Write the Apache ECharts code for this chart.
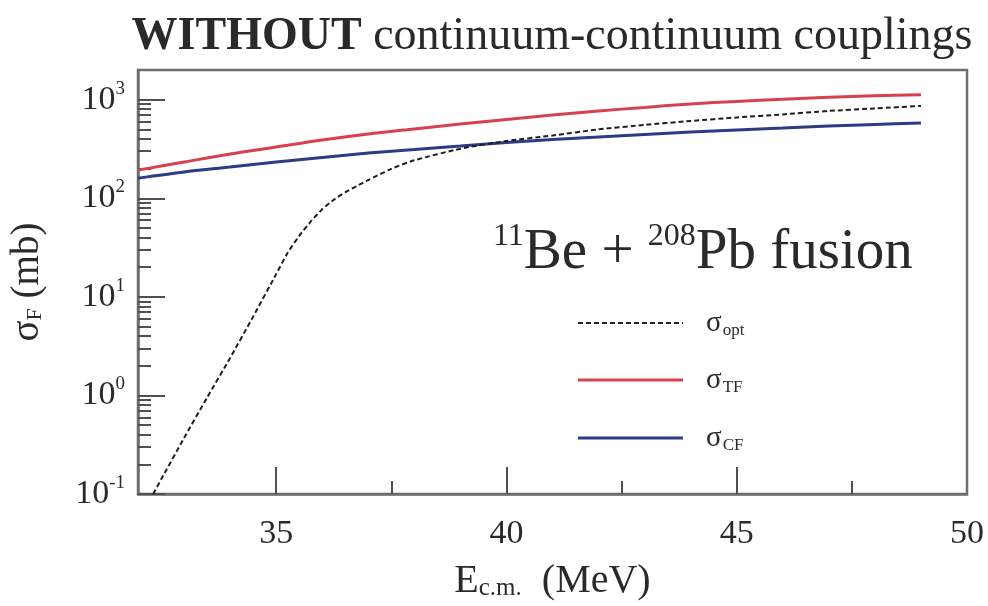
<!DOCTYPE html>
<html>
<head>
<meta charset="utf-8">
<script src="https://cdn.jsdelivr.net/npm/echarts@6/dist/echarts.min.js"></script>
<style>
  html, body { margin: 0; padding: 0; background: #fff; }
  #c { width: 988px; height: 606px; }
</style>
</head>
<body>
<div id="c"></div>
<script>
// Centre-of-mass energies (MeV) for the coupled-channel curves
const energies = [32, 33, 34, 35, 36, 37, 38, 39, 40, 41, 42, 43, 44, 45, 46, 47, 48, 49];
// Total fusion cross section sigma_TF (mb)
const sigmaTF = [193, 233, 281, 331, 390, 449, 505, 567, 631, 700, 769, 835, 906, 961, 1008, 1057, 1095, 1120];
// Complete fusion cross section sigma_CF (mb)
const sigmaCF = [160, 185, 207, 233, 259, 287, 312, 339, 368, 395, 419, 444, 470, 493, 516, 541, 561, 581];
// Optical-model fusion, sampled more finely around the barrier
const optEnergies = [32.33, 32.5, 33, 33.5, 34, 34.5, 35, 35.25, 35.5, 35.75, 36, 36.25, 36.5, 36.75, 37, 37.5, 38,
                     39, 40, 41, 42, 43, 44, 45, 46, 47, 48, 49];
const sigmaOpt = [0.1, 0.14, 0.37, 0.95, 2.4, 6.3, 17, 28, 41.5, 58, 77.5, 96.5, 115, 133, 153, 199, 243,
                  318, 381, 433, 500, 555, 608, 660, 709, 769, 815, 865];

// Axis ticks
const xMajorTicks = [35, 40, 45];
const xTickLabels = [35, 40, 45, 50];
const xMinorTicks = [37.5, 42.5, 47.5];
const yMajorTicks = [0.1, 1, 10, 100, 1000];
const yMinorTicks = [0.2, 0.3, 0.4, 0.5, 0.6, 0.7, 0.8, 0.9,
                     2, 3, 4, 5, 6, 7, 8, 9,
                     20, 30, 40, 50, 60, 70, 80, 90,
                     200, 300, 400, 500, 600, 700, 800, 900];

const serif = '"Liberation Serif", "DejaVu Serif", serif';
const frameColor = '#6e6e6e';
const tickColor = '#505050';
const textColor = '#2a2a2a';
const redColor = '#d8404f';
const blueColor = '#2c3b86';

function pairs(xs, ys) { return xs.map((x, i) => [x, ys[i]]); }

const chart = echarts.init(document.getElementById('c'), null, { renderer: 'canvas' });

const keyRich = {
  s: { fontFamily: serif, fontSize: 29, fill: textColor },
  sub: { fontFamily: serif, fontSize: 17, fill: textColor, padding: [15, 0, 0, 1] }
};

const option = {
  animation: false,
  backgroundColor: '#ffffff',
  grid: {
    left: 138, right: 21, top: 70, bottom: 112,
    show: true, borderColor: frameColor, borderWidth: 2.5, backgroundColor: 'transparent'
  },
  xAxis: [
    {
      type: 'value', min: 32, max: 50, position: 'bottom',
      axisLine: { show: true, onZero: false, lineStyle: { color: frameColor, width: 2.5 } },
      axisTick: { show: true, inside: true, length: 27, customValues: xMajorTicks,
                  lineStyle: { color: tickColor, width: 2 } },
      axisLabel: { customValues: xTickLabels, margin: 23, fontFamily: serif, fontSize: 34, color: textColor },
      splitLine: { show: false },
      name: '{n|E}{sub|c.m.}{n|  (MeV)}',
      nameLocation: 'middle', nameGap: 67,
      nameTextStyle: {
        color: textColor,
        rich: {
          n: { fontFamily: serif, fontSize: 40, color: textColor },
          sub: { fontFamily: serif, fontSize: 25, color: textColor, padding: [15, 0, 0, 0] }
        }
      }
    },
    {
      type: 'value', min: 32, max: 50, position: 'bottom',
      axisLine: { show: false },
      axisTick: { show: true, inside: true, length: 13, customValues: xMinorTicks,
                  lineStyle: { color: tickColor, width: 2 } },
      axisLabel: { show: false },
      splitLine: { show: false }
    }
  ],
  yAxis: [
    {
      type: 'log', logBase: 10, min: 0.1, max: 2000, position: 'left',
      axisLine: { show: true, onZero: false, lineStyle: { color: frameColor, width: 2.5 } },
      axisTick: { show: true, inside: true, length: 27, customValues: yMajorTicks,
                  lineStyle: { color: tickColor, width: 2 } },
      axisLabel: {
        customValues: yMajorTicks, margin: 13,
        formatter: function (v) {
          const e = Math.round(Math.log10(v));
          return '{b|10}{e|' + e + '}';
        },
        rich: {
          b: { fontFamily: serif, fontSize: 34, color: textColor },
          e: { fontFamily: serif, fontSize: 19, color: textColor, padding: [0, 0, 22, 0] }
        }
      },
      splitLine: { show: false },
      name: '{s|σ}{sub|F}{n| (mb)}',
      nameLocation: 'middle', nameGap: 91,
      nameTextStyle: {
        color: textColor,
        rich: {
          s: { fontFamily: serif, fontSize: 39, color: textColor },
          n: { fontFamily: serif, fontSize: 39, color: textColor },
          sub: { fontFamily: serif, fontSize: 22, color: textColor, padding: [15, 0, 0, 0] }
        }
      }
    },
    {
      type: 'log', logBase: 10, min: 0.1, max: 2000, position: 'left',
      axisLine: { show: false },
      axisTick: { show: true, inside: true, length: 13, customValues: yMinorTicks,
                  lineStyle: { color: tickColor, width: 2 } },
      axisLabel: { show: false },
      splitLine: { show: false }
    }
  ],
  series: [
    {
      name: 'opt', type: 'line', xAxisIndex: 0, yAxisIndex: 0,
      data: pairs(optEnergies, sigmaOpt), showSymbol: false, smooth: 0.2,
      lineStyle: { color: '#1e1e1e', width: 2, type: [5, 3] }, z: 3
    },
    {
      name: 'TF', type: 'line', xAxisIndex: 0, yAxisIndex: 0,
      data: pairs(energies, sigmaTF), showSymbol: false, smooth: 0.3,
      lineStyle: { color: redColor, width: 3 }, z: 2
    },
    {
      name: 'CF', type: 'line', xAxisIndex: 0, yAxisIndex: 0,
      data: pairs(energies, sigmaCF), showSymbol: false, smooth: 0.3,
      lineStyle: { color: blueColor, width: 3 }, z: 2
    }
  ],
  graphic: [
    {
      type: 'text',
      style: {
        x: 552, y: 37, align: 'center', verticalAlign: 'middle',
        text: '{b|WITHOUT}{n| continuum-continuum couplings}',
        rich: {
          b: { fontFamily: serif, fontSize: 46, fontWeight: 'bold', fill: textColor },
          n: { fontFamily: serif, fontSize: 46, fill: textColor }
        }
      }
    },
    {
      type: 'text',
      style: {
        x: 493, y: 253, verticalAlign: 'middle', align: 'left',
        text: '{sup|11}{m|Be + }{sup|208}{m|Pb fusion}',
        rich: {
          m: { fontFamily: serif, fontSize: 57, fill: textColor },
          sup: { fontFamily: serif, fontSize: 32, fill: textColor, padding: [0, 0, 32, 0] }
        }
      }
    },
    // key: line samples
    { type: 'line', shape: { x1: 578, y1: 323, x2: 683, y2: 323 },
      style: { stroke: '#1e1e1e', lineWidth: 2, lineDash: [5, 3] } },
    { type: 'line', shape: { x1: 578, y1: 380, x2: 683, y2: 380 },
      style: { stroke: redColor, lineWidth: 3 } },
    { type: 'line', shape: { x1: 578, y1: 438, x2: 683, y2: 438 },
      style: { stroke: blueColor, lineWidth: 3 } },
    // key: labels
    { type: 'text', style: { x: 706, y: 323, verticalAlign: 'middle', text: '{s|σ}{sub|opt}', rich: keyRich } },
    { type: 'text', style: { x: 706, y: 380, verticalAlign: 'middle', text: '{s|σ}{sub|TF}', rich: keyRich } },
    { type: 'text', style: { x: 706, y: 438, verticalAlign: 'middle', text: '{s|σ}{sub|CF}', rich: keyRich } }
  ]
};

chart.setOption(option);
</script>
</body>
</html>
